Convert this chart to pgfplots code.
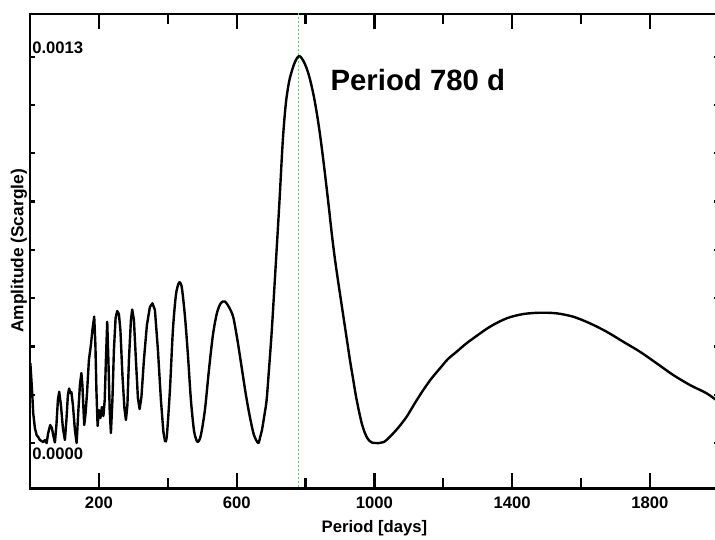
\documentclass[border=0pt]{standalone}
\usepackage{fontspec}
\setmainfont{Liberation Sans}
\usepackage{pgfplots}
\usepackage{pgfplotstable}
\pgfplotsset{compat=1.18}
\usetikzlibrary{calc}
\definecolor{peakline}{RGB}{60,235,60}

% Scargle periodogram, period [days] vs amplitude
% short periods: spiky part, drawn with straight segments
\pgfplotstableread{
period amp
1 0.000269
2.6 0.000239
6.4 0.000168
9.3 0.000101
14.2 0.0000505
19.2 0.0000269
23.8 0.0000202
28.7 0.0000101
33.7 0.0000067
38.3 0.0000034
43.3 0.0000101
48.2 0.0000000
52.8 0.0000336
58.7 0.0000606
63.6 0.0000505
67.9 0.0000236
72.3 0.0000017
76.7 0.0000606
81.0 0.0001447
84.8 0.0001726
89.7 0.0001279
95.5 0.0000505
101.3 0.0000101
105.7 0.0000774
110.0 0.0001615
113.5 0.0001834
117.3 0.0001680
120.2 0.0001716
124.6 0.0001279
130.4 0.0000437
135.3 0.0000000
140.5 0.0001110
144.9 0.0001952
149.2 0.0002355
152.1 0.0001952
157.4 0.0000606
160.9 0.0000942
165.2 0.0001615
171.0 0.0002793
176.8 0.0003297
181.2 0.0003802
186.4 0.0004256
189.9 0.0003297
192.8 0.0001783
196.3 0.0000572
200.1 0.0001110
204.4 0.0000841
208.8 0.0001211
213.1 0.0000908
216.9 0.0001447
220.4 0.0002793
224.2 0.0004081
227.6 0.0002793
231.4 0.0001110
234.9 0.0000336
239.3 0.0001447
243.6 0.0003129
248.5 0.0004206
253.2 0.0004441
258.1 0.0004340
262.5 0.0003802
268.3 0.0002288
274.1 0.0001178
278.5 0.0000774
282.8 0.0001279
287.2 0.0002793
293.0 0.0004139
296.7 0.0004492
301.7 0.0004139
307.5 0.0002793
313.3 0.0001514
318.2 0.0001144
323.5 0.0001548
330.7 0.0002793
339.4 0.0003970
348.1 0.0004576
355.4 0.0004700
362.7 0.0004475
371.4 0.0003129
380.1 0.0001447
387.3 0.0000370
392.6 0.0000034
}\shortp

% longer periods: broad peaks, drawn smooth
\pgfplotstableread{
period amp
392.6 0.0000034
397.5 0.0000269
406.2 0.0001783
414.9 0.0003802
423.6 0.0004980
430.9 0.0005350
435.2 0.0005407
441.0 0.0005215
449.8 0.0004273
458.5 0.0002961
467.2 0.0001447
475.9 0.0000437
483.2 0.0000101
488.4 0.0000044
496.2 0.0000269
507.8 0.0001110
519.5 0.0002456
531.1 0.0003634
542.7 0.0004374
554.3 0.0004711
565.9 0.0004761
577.6 0.0004576
590.0 0.0004240
602.2 0.0003466
614.4 0.0002557
626.9 0.0001615
638.5 0.0000875
650.2 0.0000269
662.6 0.0000000
667.5 0.0000168
673.4 0.0000437
680.6 0.0000942
687.0 0.0001447
693.7 0.0002456
701.5 0.0003701
709.1 0.0005148
716.0 0.0006494
724.5 0.0008176
732.3 0.0009859
737.2 0.0010700
743.9 0.0011541
753.2 0.0012214
764.8 0.0012685
773.5 0.0012920
781.6 0.0013021
789.5 0.0012937
798.2 0.0012752
806.9 0.0012483
815.6 0.0012113
824.4 0.0011642
833.1 0.0011070
841.8 0.0010397
850.5 0.0009623
859.2 0.0008782
867.9 0.0007907
876.6 0.0006999
885.3 0.0006191
894.0 0.0005484
902.7 0.0004812
911.4 0.0004139
920.2 0.0003466
928.9 0.0002793
937.6 0.0002187
946.3 0.0001581
955.0 0.0001077
963.7 0.0000639
972.4 0.0000336
981.1 0.0000135
992.7 0.0000017
1013.9 0.0000000
1027.6 0.0000034
1045.0 0.0000212
1068.3 0.0000505
1093.5 0.0000885
1117.6 0.0001346
1141.7 0.0001783
1165.5 0.0002170
1190.2 0.0002513
1213.4 0.0002826
1238.7 0.0003072
1262.8 0.0003314
1286.9 0.0003523
1335.4 0.0003913
1383.9 0.0004196
1432.0 0.0004340
1480.5 0.0004384
1529.0 0.0004364
1577.2 0.0004250
1625.7 0.0004028
1674.2 0.0003745
1722.4 0.0003408
1770.9 0.0003072
1819.4 0.0002682
1867.6 0.0002288
1916.1 0.0001952
1964.6 0.0001672
2000 0.000138
}\longp

\begin{document}
\begin{tikzpicture}
\begin{axis}[
    name=ax,
    scale only axis,
    width=516.6pt, height=355.5pt,
    xmin=0, xmax=2000,
    ymin=-0.0001514, ymax=0.0014435,
    axis line style={line width=2.2pt},
    tick align=inside,
    xtick={200,600,1000,1400,1800},
    xticklabels={200,600,1000,1400,1800},
    minor xtick={400,800,1200,1600},
    ytick={0,0.0001625,0.000325,0.0004875,0.00065,0.0008125,0.000975,0.0011375,0.0013},
    yticklabels={},
    major tick length=11pt,
    minor tick length=7.5pt,
    tick style={line width=1.6pt, black},
    ytick style={/pgfplots/major tick length=4pt},
    /pgf/number format/assume math mode=true,
    xticklabel style={font=\bfseries\fontsize{12.5}{14}\selectfont, yshift=-3pt},
    xlabel={Period [days]},
    ylabel={Amplitude (Scargle)},
    every axis x label/.style={at={(rel axis cs:0.5,0)}, anchor=north, inner sep=0pt, yshift=-24pt,
        font=\bfseries\fontsize{12.5}{14}\selectfont},
    every axis y label/.style={at={(rel axis cs:0,0.5)}, rotate=90, anchor=south, inner sep=0pt, yshift=2pt,
        font=\bfseries\fontsize{13}{15}\selectfont},
]
\addplot[peakline, line width=1pt, dash pattern=on 1.5pt off 1.5pt] coordinates {(780,-0.00016) (780,0.00145)};
\addplot[black, line width=1.8pt, line join=round] table[x=period, y=amp] {\shortp};
\addplot[black, line width=1.8pt, line join=round, smooth, tension=0.5] table[x=period, y=amp] {\longp};
\node[anchor=base west, inner sep=0pt, xshift=1.5pt, yshift=-12pt, font=\bfseries\fontsize{12.5}{14}\selectfont] at (axis cs:0,0) {0.0000};
\node[anchor=base west, inner sep=0pt, xshift=1.5pt, yshift=2.5pt, font=\bfseries\fontsize{12.5}{14}\selectfont] at (axis cs:0,0.0013) {0.0013};
\node[anchor=base west, inner sep=0pt, font=\bfseries\fontsize{22}{26}\selectfont] at (axis cs:872,0.0011877) {Period 780 d};
\end{axis}
\pgfresetboundingbox
\path[use as bounding box] ($(ax.south west)+(-22.5pt,-38.25pt)$) rectangle ($(ax.north west)+(513.7pt,10.5pt)$);
\end{tikzpicture}
\end{document}
